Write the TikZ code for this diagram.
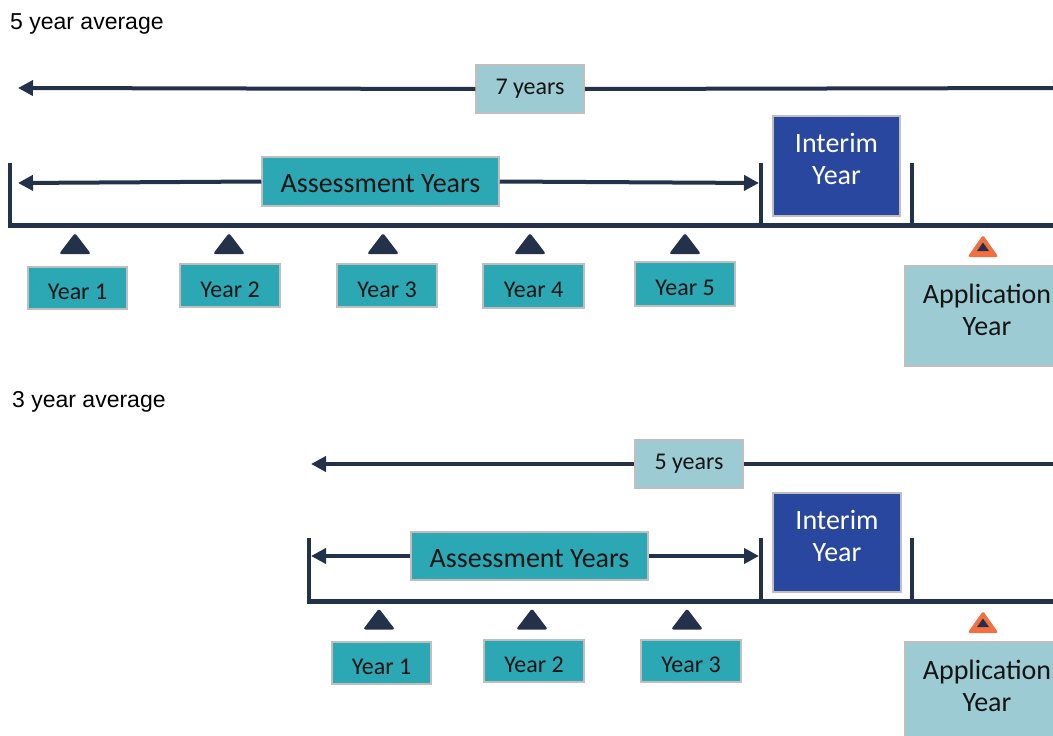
\documentclass[tikz,border=0pt]{standalone}
\usepackage{fontspec}
\setmainfont{Carlito}
\newfontfamily\arialf{Liberation Sans}
\usetikzlibrary{arrows.meta}
\definecolor{navy}{RGB}{35,49,75}
\definecolor{tealbox}{RGB}{43,168,180}
\definecolor{lightbox}{RGB}{157,203,211}
\definecolor{interimblue}{RGB}{41,71,158}
\definecolor{orangetri}{RGB}{240,112,66}
\definecolor{boxgray}{RGB}{191,191,191}
\definecolor{txt}{RGB}{20,20,20}
\begin{document}
\begin{tikzpicture}[x=1pt,y=-1pt,
  arr/.style={draw=navy, line width=4, -{Triangle[length=15,width=15]}},
  axis/.style={draw=navy, line width=5},
  bar/.style={draw=navy, line width=4},
  basebox/.style={draw=boxgray, line width=1.5, inner sep=0, text=txt},
  yearbox/.style={basebox, fill=tealbox, minimum width=99, minimum height=42, text height=23, text depth=0, font=\fontsize{24}{28}\selectfont},
  spanbox/.style={basebox, fill=lightbox, minimum width=108, minimum height=48, font=\fontsize{24}{28}\selectfont},
  assessbox/.style={basebox, fill=tealbox, minimum width=237, minimum height=49, text height=22, text depth=0, font=\fontsize{28}{32}\selectfont},
  interimbox/.style={basebox, fill=interimblue, minimum width=127, minimum height=100},
  appbox/.style={basebox, fill=lightbox, minimum width=164, minimum height=100},
  twoline/.style={align=center, inner sep=0, font=\fontsize{28}{32}\selectfont},
  heading/.style={anchor=base west, inner sep=0, text=black, font=\arialf\fontsize{23}{27}\selectfont},
  navytri/.pic={\fill[navy, rounded corners=2.5] (-16,10.5) -- (0,-10.5) -- (16,10.5) -- cycle;},
  apptri/.pic={\fill[orangetri, rounded corners=2.5] (-15.5,11) -- (0,-11) -- (15.5,11) -- cycle;
               \fill[navy] (-6,5) -- (0,-3.5) -- (6,5) -- cycle;}
]
\useasboundingbox (0,0) rectangle (1053,736);
\clip (0,0) rectangle (1053,736);

% ---------------- 5 year average ----------------
\node[heading] (h5) at (10,30) {5 year average};

\coordinate (s7L) at (18,88);
\coordinate (s7R) at (1068,88);
\node[spanbox] (s7) at (530,89) {7 years};
\draw[arr] (s7.west) -- (s7L);
\draw[arr] (s7.east) -- (s7R);

\coordinate (b1a) at (10,163); \coordinate (b1b) at (10,228);
\coordinate (b2a) at (761,163); \coordinate (b2b) at (761,225);
\coordinate (b3a) at (912,163); \coordinate (b3b) at (912,225);
\coordinate (ax1L) at (12,225.5); \coordinate (ax1R) at (1060,225.5);
\draw[bar] (b1a) -- (b1b);
\draw[bar] (b2a) -- (b2b);
\draw[bar] (b3a) -- (b3b);
\draw[axis] (ax1L) -- (ax1R);

\coordinate (a1L) at (18,183);
\coordinate (a1R) at (759,183);
\node[assessbox] (ay1) at (380.5,181.5) {Assessment Years};
\draw[arr] (ay1.west) -- (a1L);
\draw[arr] (ay1.east) -- (a1R);

\node[interimbox] (int1) at (836.5,166) {};
\node[twoline, text=white] (int1t) at ([yshift=7]int1.center) {Interim\\Year};

\pic at (75,243.5) {navytri};
\pic at (229,243.5) {navytri};
\pic at (383,243.5) {navytri};
\pic at (530,243.5) {navytri};
\pic at (685,243.5) {navytri};
\pic at (983,246) {apptri};

\node[yearbox] (y11) at (77.5,288) {Year 1};
\node[yearbox, minimum width=100, minimum height=43] (y12) at (230,285.5) {Year 2};
\node[yearbox, minimum width=100, minimum height=43] (y13) at (387,285.5) {Year 3};
\node[yearbox, minimum width=101, minimum height=44] (y14) at (533.5,286) {Year 4};
\node[yearbox, minimum width=100, minimum height=44] (y15) at (685,284) {Year 5};

\node[appbox] (app1) at (987,316) {};
\node[twoline, text=txt] (app1t) at ([yshift=6]app1.center) {Application\\Year};

% ---------------- 3 year average ----------------
\node[heading] (h3) at (12,407) {3 year average};

\coordinate (s5L) at (311,464);
\coordinate (s5R) at (1068,464);
\node[spanbox] (s5) at (689,464) {5 years};
\draw[arr] (s5.west) -- (s5L);
\draw[arr] (s5.east) -- (s5R);

\coordinate (c1a) at (309,538); \coordinate (c1b) at (309,604);
\coordinate (c2a) at (761,538); \coordinate (c2b) at (761,601);
\coordinate (c3a) at (912,538); \coordinate (c3b) at (912,601);
\coordinate (ax2L) at (311,601.5); \coordinate (ax2R) at (1060,601.5);
\draw[bar] (c1a) -- (c1b);
\draw[bar] (c2a) -- (c2b);
\draw[bar] (c3a) -- (c3b);
\draw[axis] (ax2L) -- (ax2R);

\coordinate (a2L) at (311,556);
\coordinate (a2R) at (759,556);
\node[assessbox, minimum height=48] (ay2) at (529.5,556) {Assessment Years};
\draw[arr] (ay2.west) -- (a2L);
\draw[arr] (ay2.east) -- (a2R);

\node[interimbox, minimum width=128, minimum height=99] (int2) at (837,542.5) {};
\node[twoline, text=white] (int2t) at ([yshift=7]int2.center) {Interim\\Year};

\pic at (379,619) {navytri};
\pic at (532,619) {navytri};
\pic at (687,619) {navytri};
\pic at (983,622) {apptri};

\node[yearbox] (y21) at (381.5,663) {Year 1};
\node[yearbox, minimum width=100] (y22) at (534,661) {Year 2};
\node[yearbox, minimum width=100] (y23) at (691,661) {Year 3};

\node[appbox] (app2) at (987,692) {};
\node[twoline, text=txt] (app2t) at ([yshift=6]app2.center) {Application\\Year};
\end{tikzpicture}
\end{document}
